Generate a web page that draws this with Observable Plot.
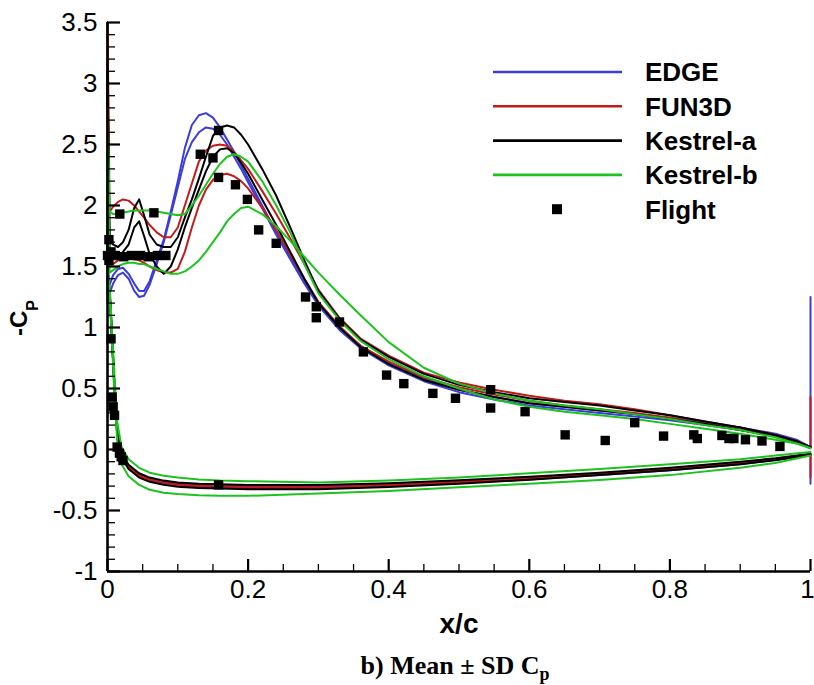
<!DOCTYPE html>
<html><head><meta charset="utf-8">
<script src="https://cdn.jsdelivr.net/npm/d3@7"></script>
<script src="https://cdn.jsdelivr.net/npm/@observablehq/plot@0.6"></script>
<style>
body{margin:0;background:#fff;}
#wrap{position:relative;width:814px;height:685px;overflow:hidden;background:#fff;}
#legend{position:absolute;left:0;top:0;pointer-events:none;}
#caption{position:absolute;left:0;top:653px;width:910px;text-align:center;font:bold 26px "Liberation Serif","Times New Roman",serif;line-height:26px;color:#000;white-space:nowrap;}
#caption span{position:relative;top:6px;font-size:18px;}
</style></head>
<body><div id="wrap"></div>
<script>
// ---------- data ----------
const solvers = ["EDGE", "FUN3D", "Kestrel-a", "Kestrel-b"];
const solverColors = ["#3c3cdc", "#c41a1a", "#000000", "#1ec21e"];

// upper surface x stations
const xUpper = [0, 0.003, 0.008, 0.015, 0.022, 0.03, 0.038, 0.045, 0.052, 0.06, 0.07, 0.08, 0.09, 0.1, 0.11, 0.12, 0.13, 0.14, 0.15, 0.16, 0.17, 0.18, 0.19, 0.2, 0.22, 0.24, 0.26, 0.28, 0.3, 0.33, 0.36, 0.4, 0.45, 0.5, 0.55, 0.6, 0.65, 0.7, 0.75, 0.8, 0.85, 0.9, 0.95, 0.98, 1.0];
// lower surface x stations
const xLower = [0, 0.002, 0.004, 0.007, 0.01, 0.014, 0.02, 0.03, 0.045, 0.06, 0.08, 0.1, 0.13, 0.16, 0.2, 0.3, 0.4, 0.5, 0.6, 0.7, 0.8, 0.9, 0.95, 1.0];

// -Cp, mean + SD and mean - SD, upper surface
const edgePlusUpper   = [1.28, 1.35, 1.43, 1.48, 1.49, 1.44, 1.36, 1.30, 1.30, 1.38, 1.55, 1.72, 1.95, 2.20, 2.47, 2.66, 2.74, 2.757, 2.72, 2.64, 2.54, 2.44, 2.33, 2.22, 2.00, 1.78, 1.58, 1.38, 1.20, 1.00, 0.85, 0.71, 0.58, 0.49, 0.43, 0.38, 0.35, 0.32, 0.29, 0.26, 0.22, 0.18, 0.13, 0.08, 0.02];
const edgeMinusUpper  = [1.20, 1.28, 1.36, 1.43, 1.45, 1.40, 1.30, 1.25, 1.26, 1.35, 1.52, 1.70, 1.92, 2.15, 2.38, 2.52, 2.60, 2.64, 2.63, 2.58, 2.50, 2.40, 2.30, 2.19, 1.98, 1.76, 1.56, 1.36, 1.18, 0.98, 0.83, 0.69, 0.56, 0.47, 0.41, 0.36, 0.33, 0.30, 0.27, 0.24, 0.20, 0.16, 0.11, 0.07, 0.02];
const fun3dPlusUpper  = [3.50, 1.95, 1.99, 2.03, 2.05, 2.04, 2.00, 1.95, 1.90, 1.84, 1.78, 1.74, 1.74, 1.82, 2.00, 2.18, 2.36, 2.45, 2.49, 2.50, 2.49, 2.44, 2.37, 2.30, 2.12, 1.93, 1.73, 1.52, 1.31, 1.08, 0.91, 0.77, 0.63, 0.55, 0.49, 0.44, 0.40, 0.37, 0.33, 0.28, 0.23, 0.18, 0.12, 0.07, 0.02];
const fun3dMinusUpper = [3.50, 1.50, 1.52, 1.55, 1.57, 1.57, 1.56, 1.55, 1.53, 1.50, 1.47, 1.45, 1.45, 1.48, 1.62, 1.82, 2.00, 2.13, 2.21, 2.25, 2.26, 2.24, 2.20, 2.14, 1.98, 1.80, 1.60, 1.40, 1.21, 1.01, 0.85, 0.72, 0.59, 0.51, 0.45, 0.40, 0.36, 0.33, 0.30, 0.26, 0.21, 0.16, 0.11, 0.06, 0.02];
const kesAPlusUpper   = [3.10, 1.72, 1.68, 1.66, 1.70, 1.80, 1.98, 2.05, 1.92, 1.76, 1.68, 1.66, 1.66, 1.74, 1.90, 2.05, 2.22, 2.40, 2.57, 2.64, 2.655, 2.64, 2.58, 2.50, 2.30, 2.08, 1.82, 1.55, 1.30, 1.07, 0.90, 0.76, 0.62, 0.53, 0.47, 0.42, 0.39, 0.36, 0.32, 0.28, 0.23, 0.18, 0.12, 0.07, 0.02];
const kesAMinusUpper  = [3.10, 1.56, 1.56, 1.58, 1.62, 1.68, 1.82, 1.87, 1.75, 1.60, 1.50, 1.44, 1.50, 1.64, 1.82, 1.98, 2.13, 2.28, 2.40, 2.46, 2.47, 2.43, 2.35, 2.26, 2.05, 1.84, 1.62, 1.40, 1.20, 1.00, 0.84, 0.70, 0.57, 0.49, 0.43, 0.38, 0.35, 0.32, 0.29, 0.25, 0.21, 0.16, 0.11, 0.06, 0.02];
const kesBPlusUpper   = [2.80, 1.95, 1.93, 1.93, 1.94, 1.95, 1.96, 1.96, 1.96, 1.96, 1.95, 1.94, 1.93, 1.92, 1.93, 2.00, 2.08, 2.17, 2.26, 2.34, 2.40, 2.42, 2.40, 2.36, 2.20, 2.00, 1.78, 1.52, 1.28, 1.06, 0.89, 0.74, 0.60, 0.50, 0.41, 0.35, 0.31, 0.28, 0.25, 0.21, 0.17, 0.13, 0.08, 0.05, 0.01];
const kesBMinusUpper  = [2.80, 1.45, 1.47, 1.50, 1.52, 1.53, 1.53, 1.52, 1.52, 1.50, 1.48, 1.46, 1.44, 1.44, 1.46, 1.50, 1.55, 1.62, 1.70, 1.78, 1.87, 1.93, 1.98, 1.99, 1.93, 1.83, 1.71, 1.58, 1.45, 1.27, 1.10, 0.88, 0.67, 0.54, 0.46, 0.40, 0.36, 0.33, 0.29, 0.25, 0.20, 0.16, 0.10, 0.05, 0.01];

// -Cp, mean + SD and mean - SD, lower surface
const edgePlusLower   = [1.50, 1.35, 1.20, 0.85, 0.50, 0.12, -0.05, -0.14, -0.21, -0.245, -0.27, -0.285, -0.295, -0.30, -0.305, -0.305, -0.29, -0.265, -0.235, -0.20, -0.16, -0.11, -0.08, -0.04];
const edgeMinusLower  = [1.50, 1.34, 1.19, 0.84, 0.49, 0.11, -0.06, -0.15, -0.22, -0.255, -0.28, -0.295, -0.305, -0.31, -0.315, -0.315, -0.30, -0.275, -0.245, -0.21, -0.17, -0.12, -0.085, -0.045];
const fun3dPlusLower  = [1.50, 1.355, 1.205, 0.86, 0.51, 0.13, -0.045, -0.135, -0.205, -0.24, -0.265, -0.28, -0.29, -0.295, -0.30, -0.30, -0.285, -0.26, -0.23, -0.196, -0.156, -0.106, -0.077, -0.038];
const fun3dMinusLower = [1.50, 1.345, 1.19, 0.84, 0.49, 0.11, -0.06, -0.15, -0.22, -0.258, -0.283, -0.298, -0.308, -0.313, -0.318, -0.318, -0.30, -0.273, -0.242, -0.205, -0.165, -0.115, -0.084, -0.042];
const kesAPlusLower   = [1.50, 1.36, 1.21, 0.87, 0.52, 0.14, -0.035, -0.125, -0.195, -0.23, -0.255, -0.27, -0.28, -0.285, -0.29, -0.29, -0.277, -0.252, -0.223, -0.19, -0.15, -0.10, -0.072, -0.035];
const kesAMinusLower  = [1.50, 1.34, 1.18, 0.83, 0.48, 0.10, -0.07, -0.16, -0.23, -0.265, -0.29, -0.305, -0.315, -0.32, -0.325, -0.325, -0.308, -0.28, -0.248, -0.21, -0.17, -0.12, -0.088, -0.045];
const kesBPlusLower   = [1.50, 1.38, 1.25, 0.92, 0.60, 0.22, 0.02, -0.08, -0.15, -0.19, -0.215, -0.23, -0.245, -0.255, -0.26, -0.27, -0.255, -0.23, -0.195, -0.16, -0.12, -0.08, -0.05, -0.02];
const kesBMinusLower  = [1.50, 1.35, 1.15, 0.80, 0.42, 0.05, -0.12, -0.22, -0.29, -0.33, -0.355, -0.365, -0.375, -0.38, -0.38, -0.36, -0.34, -0.31, -0.28, -0.25, -0.21, -0.15, -0.11, -0.05];

// trailing-edge spikes (mean + SD curve), per solver
const teSpikeTop    = [1.25, 0.43, null, null];
const teSpikeBottom = [-0.28, -0.23, null, null];

// flight data
const flightX = [0.002, 0.0175, 0.066, 0.0, 0.002, 0.005, 0.011, 0.023, 0.034, 0.047, 0.058, 0.071, 0.083,
  0.132, 0.150, 0.158, 0.158, 0.182, 0.199, 0.215, 0.240, 0.2817, 0.297, 0.297, 0.33, 0.364, 0.397, 0.4215, 0.4628, 0.495,
  0.545, 0.545, 0.594, 0.651, 0.708, 0.750, 0.791, 0.834, 0.839, 0.874, 0.884, 0.891, 0.9075, 0.931, 0.9565,
  0.005, 0.0066, 0.008, 0.01, 0.0137, 0.017, 0.0195, 0.022, 0.158];
const flightY = [1.72, 1.93, 1.94, 1.59, 1.55, 1.62, 1.59, 1.58, 1.59, 1.59, 1.58, 1.59, 1.59,
  2.42, 2.39, 2.615, 2.23, 2.17, 2.05, 1.80, 1.69, 1.25, 1.17, 1.08, 1.045, 0.80, 0.61, 0.54, 0.46, 0.42,
  0.49, 0.34, 0.31, 0.12, 0.074, 0.22, 0.11, 0.12, 0.09, 0.115, 0.09, 0.09, 0.08, 0.07, 0.025,
  0.907, 0.43, 0.35, 0.28, 0.02, -0.03, -0.06, -0.09, -0.29];

// axis ticks
const xMajor = [0, 0.2, 0.4, 0.6, 0.8, 1];
const yMajor = [-1, -0.5, 0, 0.5, 1, 1.5, 2, 2.5, 3, 3.5];
const xMinor = [0.05, 0.1, 0.15, 0.25, 0.3, 0.35, 0.45, 0.5, 0.55, 0.65, 0.7, 0.75, 0.85, 0.9, 0.95];
const yMinor = [-0.9, -0.8, -0.7, -0.6, -0.4, -0.3, -0.2, -0.1, 0.1, 0.2, 0.3, 0.4, 0.6, 0.7, 0.8, 0.9, 1.1, 1.2, 1.3, 1.4, 1.6, 1.7, 1.8, 1.9, 2.1, 2.2, 2.3, 2.4, 2.6, 2.7, 2.8, 2.9, 3.1, 3.2, 3.3, 3.4];

// ---------- build tables ----------
const upperSets = [[edgePlusUpper, edgeMinusUpper], [fun3dPlusUpper, fun3dMinusUpper], [kesAPlusUpper, kesAMinusUpper], [kesBPlusUpper, kesBMinusUpper]];
const lowerSets = [[edgePlusLower, edgeMinusLower], [fun3dPlusLower, fun3dMinusLower], [kesAPlusLower, kesAMinusLower], [kesBPlusLower, kesBMinusLower]];
const rows = [];
solvers.forEach((s, i) => {
  [0, 1].forEach(j => {
    const id = s + (j ? "-minus" : "-plus");
    if (j === 0 && teSpikeBottom[i] != null) rows.push({id, solver: s, x: 1, y: teSpikeBottom[i]});
    for (let k = xLower.length - 1; k >= 0; k--) rows.push({id, solver: s, x: xLower[k], y: lowerSets[i][j][k]});
    xUpper.forEach((x, k) => rows.push({id, solver: s, x, y: upperSets[i][j][k]}));
    if (j === 0 && teSpikeTop[i] != null) rows.push({id, solver: s, x: 1, y: teSpikeTop[i]});
  });
});
const flight = flightX.map((x, i) => ({x, y: flightY[i]}));
const fmt = d => String(+d.toFixed(2));
const FONT = "'Liberation Sans', Arial, sans-serif";
const xLabelTicks = xMajor.slice(0, -1);
const xLastTick = xMajor.slice(-1);

const chart = Plot.plot({
  width: 814, height: 645,
  marginLeft: 107, marginRight: 4, marginTop: 22, marginBottom: 74,
  style: {fontFamily: FONT, fontSize: "26px", color: "#000", background: "#fff", overflow: "visible"},
  x: {domain: [0, 1]},
  y: {domain: [-1, 3.5]},
  color: {domain: solvers, range: solverColors},
  marks: [
    Plot.line(rows, {x: "x", y: "y", z: "id", stroke: "solver", strokeWidth: 2, strokeLinejoin: "round"}),
    Plot.dot(flight, {x: "x", y: "y", symbol: "square", r: 5.3, fill: "#000", stroke: null}),
    Plot.axisX({ticks: xMinor, tickSize: -7, text: null, strokeWidth: 1.3, label: null}),
    Plot.axisX({ticks: xMajor, tickSize: -12, text: null, strokeWidth: 2.2, label: null}),
    Plot.axisX({ticks: xLabelTicks, tickSize: 0, tickPadding: 8, tickFormat: fmt, fontSize: 26, label: null}),
    Plot.axisX({ticks: xLastTick, tickSize: 0, tickPadding: 8, tickFormat: fmt, fontSize: 26, dx: -3, label: null}),
    Plot.axisY({ticks: yMinor, tickSize: -8, text: null, strokeWidth: 1.3, label: null}),
    Plot.axisY({ticks: yMajor, tickSize: -13, tickPadding: 23, strokeWidth: 2.2, tickFormat: fmt, fontSize: 26, label: null}),
    Plot.ruleX([0], {strokeWidth: 2.6}),
    Plot.ruleY([-1], {strokeWidth: 2.6})
  ]
});

const wrap = document.getElementById("wrap");
wrap.appendChild(chart);
const svg = d3.select(chart);

// x-axis title
svg.append("text").attr("x", 459).attr("y", 633).attr("text-anchor", "middle")
  .attr("font-family", FONT).attr("font-weight", "bold").attr("font-size", 28).text("x/c");
// y-axis title  -C_P
const yt = svg.append("text").attr("transform", "translate(27,318) rotate(-90)")
  .attr("font-family", FONT).attr("font-weight", "bold").attr("font-size", 24);
yt.append("tspan").text("-C");
yt.append("tspan").attr("dy", 11).attr("font-size", 16).text("P");

// legend
const leg = d3.select(wrap).append("svg").attr("id", "legend").attr("width", 814).attr("height", 240);
const legNames = solvers.concat(["Flight"]);
legNames.forEach((name, i) => {
  const y = 72 + i * 34.3;
  if (i < solvers.length) {
    leg.append("line").attr("x1", 493).attr("x2", 622).attr("y1", y).attr("y2", y)
      .attr("stroke", solverColors[i]).attr("stroke-width", 2.6);
  } else {
    leg.append("rect").attr("x", 552).attr("y", y - 5).attr("width", 10).attr("height", 10).attr("fill", "#000");
  }
  leg.append("text").attr("x", 645).attr("y", y).attr("dy", "0.36em")
    .attr("font-family", FONT).attr("font-weight", "bold").attr("font-size", 26).text(name);
});

// caption
const cap = document.createElement("div");
cap.id = "caption";
cap.innerHTML = "b) Mean ± SD C<span>p</span>";
wrap.appendChild(cap);
</script>
</body></html>
